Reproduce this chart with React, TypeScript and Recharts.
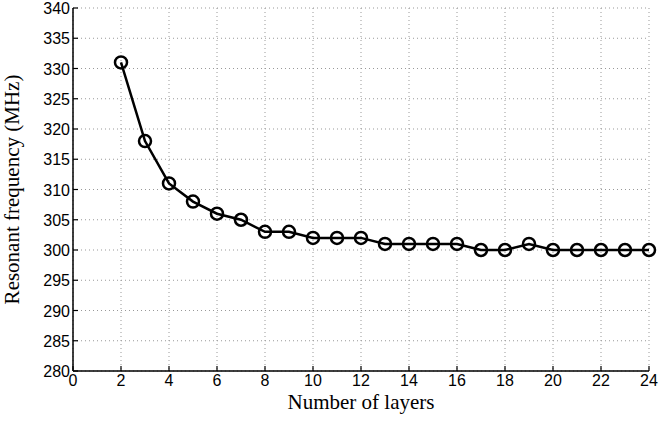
import React from 'react';
import { LineChart, Line, XAxis, YAxis, CartesianGrid } from 'recharts';

const layers = [2, 3, 4, 5, 6, 7, 8, 9, 10, 11, 12, 13, 14, 15, 16, 17, 18, 19, 20, 21, 22, 23, 24];
const frequency = [331, 318, 311, 308, 306, 305, 303, 303, 302, 302, 302, 301, 301, 301, 301, 300, 300, 301, 300, 300, 300, 300, 300];
const xTicks = [0, 2, 4, 6, 8, 10, 12, 14, 16, 18, 20, 22, 24];
const yTicks = [280, 285, 290, 295, 300, 305, 310, 315, 320, 325, 330, 335, 340];

const data = layers.map((n, i) => ({ n, f: frequency[i] }));

const tickFont = '"Liberation Sans", Arial, sans-serif';
const labelFont = '"Liberation Serif", "DejaVu Serif", serif';

function XTick(props: any) {
  const { x, y, payload } = props;
  return (
    <g>
      <line x1={x} x2={x} y1={y - 3} y2={y - 8} stroke="#000" strokeWidth={1.2} />
      <text x={x} y={y} dy={12} textAnchor="middle" fontSize={16} fontFamily={tickFont} fill="#000">
        {payload.value}
      </text>
    </g>
  );
}

function YTick(props: any) {
  const { x, y, payload } = props;
  return (
    <g>
      <line x1={x + 3} x2={x + 8} y1={y} y2={y} stroke="#000" strokeWidth={1.2} />
      <text x={x} y={y} dy={6} textAnchor="end" fontSize={16} fontFamily={tickFont} fill="#000">
        {payload.value}
      </text>
    </g>
  );
}

export default function App() {
  return (
    <div style={{ position: 'absolute', left: 0, top: 0, background: '#fff' }}>
      <LineChart width={659} height={421} data={data} margin={{ top: 8, right: 10, bottom: 20, left: 3 }}>
        <CartesianGrid stroke="#999" strokeDasharray="1 3" horizontal vertical />
        <XAxis
          dataKey="n"
          type="number"
          domain={[0, 24]}
          ticks={xTicks}
          interval={0}
          height={30}
          tickSize={0}
          tickMargin={3}
          tickLine={false}
          axisLine={{ stroke: '#000', strokeWidth: 1.5 }}
          tick={<XTick />}
          label={{ value: 'Number of layers', position: 'insideBottom', offset: -8, fontSize: 21, fontFamily: labelFont, fill: '#000' }}
        />
        <YAxis
          type="number"
          domain={[280, 340]}
          ticks={yTicks}
          interval={0}
          width={70}
          tickSize={0}
          tickMargin={3}
          tickLine={false}
          axisLine={{ stroke: '#000', strokeWidth: 1.5 }}
          tick={<YTick />}
          label={{ value: 'Resonant frequency (MHz)', angle: -90, position: 'insideLeft', offset: 0, dx: 9, fontSize: 21, fontFamily: labelFont, fill: '#000', style: { textAnchor: 'middle' } }}
        />
        <Line
          dataKey="f"
          stroke="#000"
          strokeWidth={2.5}
          isAnimationActive={false}
          dot={{ r: 6, stroke: '#000', strokeWidth: 2.5, fill: 'none' }}
          activeDot={false}
        />
      </LineChart>
    </div>
  );
}
